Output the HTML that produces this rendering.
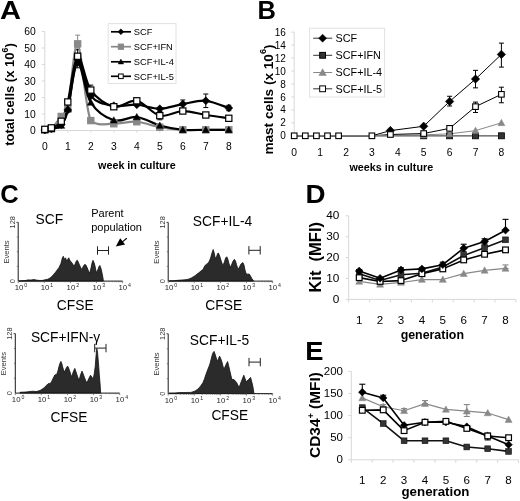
<!DOCTYPE html><html><head><meta charset="utf-8"><style>html,body{margin:0;padding:0;background:#fff;}svg{display:block;filter:grayscale(1) blur(0.35px);}text{font-family:"Liberation Sans",sans-serif;}</style></head><body>
<svg width="520" height="501" viewBox="0 0 520 501">
<rect x="0" y="0" width="520" height="501" fill="#fff" stroke="none" stroke-width="1"/>
<line x1="44.8" y1="31.5" x2="44.8" y2="130.5" stroke="#d8d8d8" stroke-width="1"/>
<line x1="44.8" y1="130.5" x2="228.8" y2="130.5" stroke="#d8d8d8" stroke-width="1"/>
<line x1="41.8" y1="130.5" x2="44.8" y2="130.5" stroke="#d8d8d8" stroke-width="1"/>
<text x="35.8" y="134.2" font-size="10.3" text-anchor="end" font-weight="normal" fill="#000">0</text>
<line x1="41.8" y1="114" x2="44.8" y2="114" stroke="#d8d8d8" stroke-width="1"/>
<text x="35.8" y="117.7" font-size="10.3" text-anchor="end" font-weight="normal" fill="#000">10</text>
<line x1="41.8" y1="97.5" x2="44.8" y2="97.5" stroke="#d8d8d8" stroke-width="1"/>
<text x="35.8" y="101.2" font-size="10.3" text-anchor="end" font-weight="normal" fill="#000">20</text>
<line x1="41.8" y1="81" x2="44.8" y2="81" stroke="#d8d8d8" stroke-width="1"/>
<text x="35.8" y="84.7" font-size="10.3" text-anchor="end" font-weight="normal" fill="#000">30</text>
<line x1="41.8" y1="64.5" x2="44.8" y2="64.5" stroke="#d8d8d8" stroke-width="1"/>
<text x="35.8" y="68.2" font-size="10.3" text-anchor="end" font-weight="normal" fill="#000">40</text>
<line x1="41.8" y1="48" x2="44.8" y2="48" stroke="#d8d8d8" stroke-width="1"/>
<text x="35.8" y="51.7" font-size="10.3" text-anchor="end" font-weight="normal" fill="#000">50</text>
<line x1="41.8" y1="31.5" x2="44.8" y2="31.5" stroke="#d8d8d8" stroke-width="1"/>
<text x="35.8" y="35.2" font-size="10.3" text-anchor="end" font-weight="normal" fill="#000">60</text>
<line x1="44.8" y1="130.5" x2="44.8" y2="132.5" stroke="#d8d8d8" stroke-width="1"/>
<text x="44.8" y="149.7" font-size="10.3" text-anchor="middle" font-weight="normal" fill="#000">0</text>
<line x1="67.8" y1="130.5" x2="67.8" y2="132.5" stroke="#d8d8d8" stroke-width="1"/>
<text x="67.8" y="149.7" font-size="10.3" text-anchor="middle" font-weight="normal" fill="#000">1</text>
<line x1="90.8" y1="130.5" x2="90.8" y2="132.5" stroke="#d8d8d8" stroke-width="1"/>
<text x="90.8" y="149.7" font-size="10.3" text-anchor="middle" font-weight="normal" fill="#000">2</text>
<line x1="113.8" y1="130.5" x2="113.8" y2="132.5" stroke="#d8d8d8" stroke-width="1"/>
<text x="113.8" y="149.7" font-size="10.3" text-anchor="middle" font-weight="normal" fill="#000">3</text>
<line x1="136.8" y1="130.5" x2="136.8" y2="132.5" stroke="#d8d8d8" stroke-width="1"/>
<text x="136.8" y="149.7" font-size="10.3" text-anchor="middle" font-weight="normal" fill="#000">4</text>
<line x1="159.8" y1="130.5" x2="159.8" y2="132.5" stroke="#d8d8d8" stroke-width="1"/>
<text x="159.8" y="149.7" font-size="10.3" text-anchor="middle" font-weight="normal" fill="#000">5</text>
<line x1="182.8" y1="130.5" x2="182.8" y2="132.5" stroke="#d8d8d8" stroke-width="1"/>
<text x="182.8" y="149.7" font-size="10.3" text-anchor="middle" font-weight="normal" fill="#000">6</text>
<line x1="205.8" y1="130.5" x2="205.8" y2="132.5" stroke="#d8d8d8" stroke-width="1"/>
<text x="205.8" y="149.7" font-size="10.3" text-anchor="middle" font-weight="normal" fill="#000">7</text>
<line x1="228.8" y1="130.5" x2="228.8" y2="132.5" stroke="#d8d8d8" stroke-width="1"/>
<text x="228.8" y="149.7" font-size="10.3" text-anchor="middle" font-weight="normal" fill="#000">8</text>
<text x="0" y="0" font-size="25.5" font-weight="bold" transform="translate(-0.1 18.8) scale(1.14 1)">A</text>
<text x="136.9" y="168.6" font-size="10.75" text-anchor="middle" font-weight="bold" fill="#000">week in culture</text>
<text x="14" y="94.5" font-size="13" font-weight="bold" text-anchor="middle" transform="rotate(-90 14 94.5)">total cells (x 10<tspan dy="-6" font-size="8.8">6</tspan><tspan dy="6">)</tspan></text>
<line x1="77.66" y1="35.13" x2="77.66" y2="49.98" stroke="#888" stroke-width="1"/>
<line x1="75.16" y1="35.13" x2="80.16" y2="35.13" stroke="#888" stroke-width="1"/>
<line x1="75.16" y1="49.98" x2="80.16" y2="49.98" stroke="#888" stroke-width="1"/>
<line x1="77.66" y1="49.65" x2="77.66" y2="67.8" stroke="#000" stroke-width="1"/>
<line x1="75.16" y1="49.65" x2="80.16" y2="49.65" stroke="#000" stroke-width="1"/>
<line x1="75.16" y1="67.8" x2="80.16" y2="67.8" stroke="#000" stroke-width="1"/>
<line x1="205.8" y1="94.03" x2="205.8" y2="107.56" stroke="#000" stroke-width="1"/>
<line x1="203.3" y1="94.03" x2="208.3" y2="94.03" stroke="#000" stroke-width="1"/>
<line x1="203.3" y1="107.56" x2="208.3" y2="107.56" stroke="#000" stroke-width="1"/>
<line x1="182.8" y1="99.97" x2="182.8" y2="108.22" stroke="#000" stroke-width="1"/>
<line x1="180.3" y1="99.97" x2="185.3" y2="99.97" stroke="#000" stroke-width="1"/>
<line x1="180.3" y1="108.22" x2="185.3" y2="108.22" stroke="#000" stroke-width="1"/>
<line x1="90.8" y1="85.12" x2="90.8" y2="95.03" stroke="#000" stroke-width="1"/>
<line x1="88.3" y1="85.12" x2="93.3" y2="85.12" stroke="#000" stroke-width="1"/>
<line x1="88.3" y1="95.03" x2="93.3" y2="95.03" stroke="#000" stroke-width="1"/>
<line x1="136.8" y1="98.33" x2="136.8" y2="103.28" stroke="#000" stroke-width="1"/>
<line x1="134.3" y1="98.33" x2="139.3" y2="98.33" stroke="#000" stroke-width="1"/>
<line x1="134.3" y1="103.28" x2="139.3" y2="103.28" stroke="#000" stroke-width="1"/>
<line x1="228.8" y1="105.25" x2="228.8" y2="110.7" stroke="#000" stroke-width="1"/>
<line x1="226.3" y1="105.25" x2="231.3" y2="105.25" stroke="#000" stroke-width="1"/>
<line x1="226.3" y1="110.7" x2="231.3" y2="110.7" stroke="#000" stroke-width="1"/>
<line x1="159.8" y1="111.53" x2="159.8" y2="119.78" stroke="#000" stroke-width="1"/>
<line x1="157.3" y1="111.53" x2="162.3" y2="111.53" stroke="#000" stroke-width="1"/>
<line x1="157.3" y1="119.78" x2="162.3" y2="119.78" stroke="#000" stroke-width="1"/>
<path d="M44.8,130 C45.9,129.81 48.63,131.1 51.37,128.85 C54.11,126.59 58.49,119.77 61.23,116.47 C63.97,113.17 65.06,119.47 67.8,109.05 C70.54,96.95 73.82,41.95 77.66,43.88 C81.49,45.8 84.78,107.29 90.8,120.6 C96.82,126.73 106.13,123.54 113.8,123.73 C121.47,123.93 129.13,121.18 136.8,121.75 C144.47,122.33 152.13,125.85 159.8,127.2 C167.47,128.55 175.13,129.4 182.8,129.84 C190.47,130.28 198.13,129.84 205.8,129.84 C213.47,129.84 224.97,129.84 228.8,129.84" stroke="#888" stroke-width="2.2" fill="none" stroke-linejoin="round"/>
<path d="M44.8,130 C45.9,129.81 48.63,129.59 51.37,128.85 C54.11,128.11 58.49,128.85 61.23,125.55 C63.97,122.25 65.06,119.5 67.8,109.05 C70.54,98.6 73.82,63.95 77.66,62.85 C81.49,61.75 84.78,92.88 90.8,102.45 C96.82,112.02 106.13,117.85 113.8,120.27 C121.47,122.69 129.13,116.09 136.8,116.97 C144.47,117.85 152.13,123.41 159.8,125.55 C167.47,127.69 175.13,129.12 182.8,129.84 C190.47,130.56 198.13,129.84 205.8,129.84 C213.47,129.84 224.97,129.84 228.8,129.84" stroke="#000" stroke-width="2.2" fill="none" stroke-linejoin="round"/>
<path d="M44.8,130 C45.9,129.81 48.63,129.73 51.37,128.85 C54.11,127.97 58.49,127.89 61.23,124.72 C63.97,121.56 65.06,120.74 67.8,109.88 C70.54,99.01 73.82,61.89 77.66,59.55 C81.49,57.21 84.78,88.15 90.8,95.85 C96.82,103.55 106.13,104.27 113.8,105.75 C121.47,107.23 129.13,104.27 136.8,104.76 C144.47,105.26 152.13,108.83 159.8,108.72 C167.47,108.61 175.13,105.42 182.8,104.1 C190.47,102.78 198.13,100.14 205.8,100.8 C213.47,101.46 224.97,106.85 228.8,108.06" stroke="#000" stroke-width="2.2" fill="none" stroke-linejoin="round"/>
<path d="M44.8,129.34 C45.9,129.1 48.63,129.21 51.37,127.86 C54.11,126.51 58.49,125.58 61.23,121.26 C63.97,116.94 65.06,112.79 67.8,101.95 C70.54,91.12 73.82,58.23 77.66,56.25 C81.49,54.27 84.78,81.66 90.8,90.08 C96.82,98.49 106.13,104.95 113.8,106.74 C121.47,108.53 129.13,99.31 136.8,100.8 C144.47,102.28 152.13,113.95 159.8,115.65 C167.47,117.36 175.13,111.14 182.8,111.03 C190.47,110.92 198.13,113.78 205.8,114.99 C213.47,116.2 224.97,117.74 228.8,118.29" stroke="#000" stroke-width="2.2" fill="none" stroke-linejoin="round"/>
<rect x="41.7" y="126.91" width="6.2" height="6.2" fill="#888" stroke="#888" stroke-width="1.2"/>
<rect x="48.27" y="125.75" width="6.2" height="6.2" fill="#888" stroke="#888" stroke-width="1.2"/>
<rect x="58.13" y="113.38" width="6.2" height="6.2" fill="#888" stroke="#888" stroke-width="1.2"/>
<rect x="64.7" y="105.95" width="6.2" height="6.2" fill="#888" stroke="#888" stroke-width="1.2"/>
<rect x="74.56" y="40.77" width="6.2" height="6.2" fill="#888" stroke="#888" stroke-width="1.2"/>
<rect x="87.7" y="117.5" width="6.2" height="6.2" fill="#888" stroke="#888" stroke-width="1.2"/>
<rect x="110.7" y="120.64" width="6.2" height="6.2" fill="#888" stroke="#888" stroke-width="1.2"/>
<rect x="133.7" y="118.66" width="6.2" height="6.2" fill="#888" stroke="#888" stroke-width="1.2"/>
<rect x="156.7" y="124.1" width="6.2" height="6.2" fill="#888" stroke="#888" stroke-width="1.2"/>
<rect x="179.7" y="126.74" width="6.2" height="6.2" fill="#888" stroke="#888" stroke-width="1.2"/>
<rect x="202.7" y="126.74" width="6.2" height="6.2" fill="#888" stroke="#888" stroke-width="1.2"/>
<rect x="225.7" y="126.74" width="6.2" height="6.2" fill="#888" stroke="#888" stroke-width="1.2"/>
<path d="M44.8,126.5 L48.3,132.81 L41.3,132.81 Z" fill="#000" stroke="#000" stroke-width="0.5"/>
<path d="M51.37,125.35 L54.87,131.65 L47.87,131.65 Z" fill="#000" stroke="#000" stroke-width="0.5"/>
<path d="M61.23,122.05 L64.73,128.35 L57.73,128.35 Z" fill="#000" stroke="#000" stroke-width="0.5"/>
<path d="M67.8,105.55 L71.3,111.85 L64.3,111.85 Z" fill="#000" stroke="#000" stroke-width="0.5"/>
<path d="M77.66,59.35 L81.16,65.65 L74.16,65.65 Z" fill="#000" stroke="#000" stroke-width="0.5"/>
<path d="M90.8,98.95 L94.3,105.25 L87.3,105.25 Z" fill="#000" stroke="#000" stroke-width="0.5"/>
<path d="M113.8,116.77 L117.3,123.07 L110.3,123.07 Z" fill="#000" stroke="#000" stroke-width="0.5"/>
<path d="M136.8,113.47 L140.3,119.77 L133.3,119.77 Z" fill="#000" stroke="#000" stroke-width="0.5"/>
<path d="M159.8,122.05 L163.3,128.35 L156.3,128.35 Z" fill="#000" stroke="#000" stroke-width="0.5"/>
<path d="M182.8,126.34 L186.3,132.64 L179.3,132.64 Z" fill="#000" stroke="#000" stroke-width="0.5"/>
<path d="M205.8,126.34 L209.3,132.64 L202.3,132.64 Z" fill="#000" stroke="#000" stroke-width="0.5"/>
<path d="M228.8,126.34 L232.3,132.64 L225.3,132.64 Z" fill="#000" stroke="#000" stroke-width="0.5"/>
<path d="M44.8,126 L48.8,130 L44.8,134 L40.8,130 Z" fill="#000" stroke="#000" stroke-width="0.5"/>
<path d="M51.37,124.85 L55.37,128.85 L51.37,132.85 L47.37,128.85 Z" fill="#000" stroke="#000" stroke-width="0.5"/>
<path d="M61.23,120.72 L65.23,124.72 L61.23,128.72 L57.23,124.72 Z" fill="#000" stroke="#000" stroke-width="0.5"/>
<path d="M67.8,105.88 L71.8,109.88 L67.8,113.88 L63.8,109.88 Z" fill="#000" stroke="#000" stroke-width="0.5"/>
<path d="M77.66,55.55 L81.66,59.55 L77.66,63.55 L73.66,59.55 Z" fill="#000" stroke="#000" stroke-width="0.5"/>
<path d="M90.8,91.85 L94.8,95.85 L90.8,99.85 L86.8,95.85 Z" fill="#000" stroke="#000" stroke-width="0.5"/>
<path d="M113.8,101.75 L117.8,105.75 L113.8,109.75 L109.8,105.75 Z" fill="#000" stroke="#000" stroke-width="0.5"/>
<path d="M136.8,100.76 L140.8,104.76 L136.8,108.76 L132.8,104.76 Z" fill="#000" stroke="#000" stroke-width="0.5"/>
<path d="M159.8,104.72 L163.8,108.72 L159.8,112.72 L155.8,108.72 Z" fill="#000" stroke="#000" stroke-width="0.5"/>
<path d="M182.8,100.1 L186.8,104.1 L182.8,108.1 L178.8,104.1 Z" fill="#000" stroke="#000" stroke-width="0.5"/>
<path d="M205.8,96.8 L209.8,100.8 L205.8,104.8 L201.8,100.8 Z" fill="#000" stroke="#000" stroke-width="0.5"/>
<path d="M228.8,104.06 L232.8,108.06 L228.8,112.06 L224.8,108.06 Z" fill="#000" stroke="#000" stroke-width="0.5"/>
<rect x="41.7" y="126.25" width="6.2" height="6.2" fill="#fff" stroke="#000" stroke-width="1.2"/>
<rect x="48.27" y="124.76" width="6.2" height="6.2" fill="#fff" stroke="#000" stroke-width="1.2"/>
<rect x="58.13" y="118.16" width="6.2" height="6.2" fill="#fff" stroke="#000" stroke-width="1.2"/>
<rect x="64.7" y="98.86" width="6.2" height="6.2" fill="#fff" stroke="#000" stroke-width="1.2"/>
<rect x="74.56" y="53.15" width="6.2" height="6.2" fill="#fff" stroke="#000" stroke-width="1.2"/>
<rect x="87.7" y="86.98" width="6.2" height="6.2" fill="#fff" stroke="#000" stroke-width="1.2"/>
<rect x="110.7" y="103.64" width="6.2" height="6.2" fill="#fff" stroke="#000" stroke-width="1.2"/>
<rect x="133.7" y="97.7" width="6.2" height="6.2" fill="#fff" stroke="#000" stroke-width="1.2"/>
<rect x="156.7" y="112.55" width="6.2" height="6.2" fill="#fff" stroke="#000" stroke-width="1.2"/>
<rect x="179.7" y="107.93" width="6.2" height="6.2" fill="#fff" stroke="#000" stroke-width="1.2"/>
<rect x="202.7" y="111.89" width="6.2" height="6.2" fill="#fff" stroke="#000" stroke-width="1.2"/>
<rect x="225.7" y="115.19" width="6.2" height="6.2" fill="#fff" stroke="#000" stroke-width="1.2"/>
<rect x="108.2" y="23.6" width="67.8" height="59.9" fill="#fff" stroke="#e2e2e2" stroke-width="1"/>
<line x1="111" y1="31.8" x2="131" y2="31.8" stroke="#000" stroke-width="1.7"/>
<path d="M120.9,28.8 L123.9,31.8 L120.9,34.8 L117.9,31.8 Z" fill="#000" stroke="#000" stroke-width="0.4"/>
<text x="133.8" y="35.1" font-size="9.3" text-anchor="start" font-weight="normal" fill="#000">SCF</text>
<line x1="111" y1="46.7" x2="131" y2="46.7" stroke="#888" stroke-width="1.7"/>
<rect x="118.3" y="44.1" width="5.2" height="5.2" fill="#888" stroke="#888" stroke-width="1"/>
<text x="133.8" y="50" font-size="9.3" text-anchor="start" font-weight="normal" fill="#000">SCF+IFN</text>
<line x1="111" y1="61.8" x2="131" y2="61.8" stroke="#000" stroke-width="1.7"/>
<path d="M120.9,59 L123.7,64.04 L118.1,64.04 Z" fill="#000" stroke="#000" stroke-width="0.4"/>
<text x="133.8" y="65.1" font-size="9.3" text-anchor="start" font-weight="normal" fill="#000">SCF+IL-4</text>
<line x1="111" y1="76.3" x2="131" y2="76.3" stroke="#000" stroke-width="1.7"/>
<rect x="118.6" y="74" width="4.6" height="4.6" fill="#fff" stroke="#000" stroke-width="1"/>
<text x="133.8" y="79.6" font-size="9.3" text-anchor="start" font-weight="normal" fill="#000">SCF+IL-5</text>
<line x1="294.2" y1="32.12" x2="294.2" y2="135.8" stroke="#d8d8d8" stroke-width="1"/>
<line x1="294.2" y1="135.8" x2="503.4" y2="135.8" stroke="#777" stroke-width="1"/>
<line x1="291.2" y1="135.8" x2="294.2" y2="135.8" stroke="#d8d8d8" stroke-width="1"/>
<text x="285.8" y="139.4" font-size="10" text-anchor="end" font-weight="normal" fill="#000">0</text>
<line x1="291.2" y1="122.84" x2="294.2" y2="122.84" stroke="#d8d8d8" stroke-width="1"/>
<text x="285.8" y="126.44" font-size="10" text-anchor="end" font-weight="normal" fill="#000">2</text>
<line x1="291.2" y1="109.88" x2="294.2" y2="109.88" stroke="#d8d8d8" stroke-width="1"/>
<text x="285.8" y="113.48" font-size="10" text-anchor="end" font-weight="normal" fill="#000">4</text>
<line x1="291.2" y1="96.92" x2="294.2" y2="96.92" stroke="#d8d8d8" stroke-width="1"/>
<text x="285.8" y="100.52" font-size="10" text-anchor="end" font-weight="normal" fill="#000">6</text>
<line x1="291.2" y1="83.96" x2="294.2" y2="83.96" stroke="#d8d8d8" stroke-width="1"/>
<text x="285.8" y="87.56" font-size="10" text-anchor="end" font-weight="normal" fill="#000">8</text>
<line x1="291.2" y1="71" x2="294.2" y2="71" stroke="#d8d8d8" stroke-width="1"/>
<text x="285.8" y="74.6" font-size="10" text-anchor="end" font-weight="normal" fill="#000">10</text>
<line x1="291.2" y1="58.04" x2="294.2" y2="58.04" stroke="#d8d8d8" stroke-width="1"/>
<text x="285.8" y="61.64" font-size="10" text-anchor="end" font-weight="normal" fill="#000">12</text>
<line x1="291.2" y1="45.08" x2="294.2" y2="45.08" stroke="#d8d8d8" stroke-width="1"/>
<text x="285.8" y="48.68" font-size="10" text-anchor="end" font-weight="normal" fill="#000">14</text>
<line x1="291.2" y1="32.12" x2="294.2" y2="32.12" stroke="#d8d8d8" stroke-width="1"/>
<text x="285.8" y="35.72" font-size="10" text-anchor="end" font-weight="normal" fill="#000">16</text>
<text x="294.2" y="155.9" font-size="10.3" text-anchor="middle" font-weight="normal" fill="#000">0</text>
<text x="320.1" y="155.9" font-size="10.3" text-anchor="middle" font-weight="normal" fill="#000">1</text>
<text x="346" y="155.9" font-size="10.3" text-anchor="middle" font-weight="normal" fill="#000">2</text>
<text x="371.9" y="155.9" font-size="10.3" text-anchor="middle" font-weight="normal" fill="#000">3</text>
<text x="397.8" y="155.9" font-size="10.3" text-anchor="middle" font-weight="normal" fill="#000">4</text>
<text x="423.7" y="155.9" font-size="10.3" text-anchor="middle" font-weight="normal" fill="#000">5</text>
<text x="449.6" y="155.9" font-size="10.3" text-anchor="middle" font-weight="normal" fill="#000">6</text>
<text x="475.5" y="155.9" font-size="10.3" text-anchor="middle" font-weight="normal" fill="#000">7</text>
<text x="501.4" y="155.9" font-size="10.3" text-anchor="middle" font-weight="normal" fill="#000">8</text>
<text x="257.4" y="18.8" font-size="25.5" text-anchor="start" font-weight="bold" fill="#000">B</text>
<text x="391.3" y="170.7" font-size="10.75" text-anchor="middle" font-weight="bold" fill="#000">weeks in culture</text>
<text x="273.2" y="99.5" font-size="13.6" font-weight="bold" text-anchor="middle" transform="rotate(-90 273.2 99.5)">mast cells (x 10<tspan dy="-6.8" font-size="9.2">6</tspan><tspan dy="6.8">)</tspan></text>
<line x1="501.4" y1="43.14" x2="501.4" y2="67.11" stroke="#000" stroke-width="1"/>
<line x1="498.9" y1="43.14" x2="503.9" y2="43.14" stroke="#000" stroke-width="1"/>
<line x1="498.9" y1="67.11" x2="503.9" y2="67.11" stroke="#000" stroke-width="1"/>
<line x1="475.5" y1="70.35" x2="475.5" y2="87.85" stroke="#000" stroke-width="1"/>
<line x1="473" y1="70.35" x2="478" y2="70.35" stroke="#000" stroke-width="1"/>
<line x1="473" y1="87.85" x2="478" y2="87.85" stroke="#000" stroke-width="1"/>
<line x1="449.6" y1="96.27" x2="449.6" y2="105.99" stroke="#000" stroke-width="1"/>
<line x1="447.1" y1="96.27" x2="452.1" y2="96.27" stroke="#000" stroke-width="1"/>
<line x1="447.1" y1="105.99" x2="452.1" y2="105.99" stroke="#000" stroke-width="1"/>
<line x1="501.4" y1="87.2" x2="501.4" y2="102.75" stroke="#000" stroke-width="1"/>
<line x1="498.9" y1="87.2" x2="503.9" y2="87.2" stroke="#000" stroke-width="1"/>
<line x1="498.9" y1="102.75" x2="503.9" y2="102.75" stroke="#000" stroke-width="1"/>
<line x1="475.5" y1="102.1" x2="475.5" y2="112.47" stroke="#000" stroke-width="1"/>
<line x1="473" y1="102.1" x2="478" y2="102.1" stroke="#000" stroke-width="1"/>
<line x1="473" y1="112.47" x2="478" y2="112.47" stroke="#000" stroke-width="1"/>
<path d="M294.2,135.8 L305.3,135.8 L316.4,135.8 L327.5,135.8 L338.6,135.8 L371.9,135.8 L390.4,135.48 L423.7,134.83 L449.6,133.86 L475.5,130.62 L501.4,122.84" stroke="#888" stroke-width="1" fill="none" stroke-linejoin="round"/>
<path d="M294.2,135.8 L305.3,135.8 L316.4,135.8 L327.5,135.8 L338.6,135.8 L371.9,135.8 L390.4,134.5 L423.7,133.53 L449.6,128.35 L475.5,106.64 L501.4,94.33" stroke="#000" stroke-width="1" fill="none" stroke-linejoin="round"/>
<path d="M294.2,135.8 L305.3,135.8 L316.4,135.8 L327.5,135.8 L338.6,135.8 L371.9,135.8 L390.4,130.62 L423.7,126.27 L449.6,101.46 L475.5,79.1 L501.4,54.41" stroke="#000" stroke-width="1" fill="none" stroke-linejoin="round"/>
<path d="M294.2,135.8 L305.3,135.8 L316.4,135.8 L327.5,135.8 L338.6,135.8 L371.9,135.8 L390.4,135.8 L423.7,135.8 L449.6,135.8 L475.5,135.8 L501.4,135.8" stroke="#7a7a7a" stroke-width="1.6" fill="none" stroke-linejoin="round"/>
<rect x="420.7" y="132.8" width="6" height="6" fill="#333" stroke="#000" stroke-width="0.8"/>
<rect x="446.6" y="132.8" width="6" height="6" fill="#333" stroke="#000" stroke-width="0.8"/>
<rect x="472.5" y="132.8" width="6" height="6" fill="#333" stroke="#000" stroke-width="0.8"/>
<rect x="498.4" y="132.8" width="6" height="6" fill="#333" stroke="#000" stroke-width="0.8"/>
<path d="M423.7,131.33 L427.2,137.63 L420.2,137.63 Z" fill="#888" stroke="#888" stroke-width="0.5"/>
<path d="M449.6,130.36 L453.1,136.66 L446.1,136.66 Z" fill="#888" stroke="#888" stroke-width="0.5"/>
<path d="M475.5,127.12 L479,133.42 L472,133.42 Z" fill="#888" stroke="#888" stroke-width="0.5"/>
<path d="M501.4,119.34 L504.9,125.64 L497.9,125.64 Z" fill="#888" stroke="#888" stroke-width="0.5"/>
<path d="M390.4,126.37 L394.65,130.62 L390.4,134.87 L386.15,130.62 Z" fill="#000" stroke="#000" stroke-width="0.5"/>
<path d="M423.7,122.02 L427.95,126.27 L423.7,130.52 L419.45,126.27 Z" fill="#000" stroke="#000" stroke-width="0.5"/>
<path d="M449.6,97.21 L453.85,101.46 L449.6,105.71 L445.35,101.46 Z" fill="#000" stroke="#000" stroke-width="0.5"/>
<path d="M475.5,74.85 L479.75,79.1 L475.5,83.35 L471.25,79.1 Z" fill="#000" stroke="#000" stroke-width="0.5"/>
<path d="M501.4,50.16 L505.65,54.41 L501.4,58.66 L497.15,54.41 Z" fill="#000" stroke="#000" stroke-width="0.5"/>
<rect x="291.4" y="133" width="5.6" height="5.6" fill="#fff" stroke="#000" stroke-width="1.1"/>
<rect x="302.5" y="133" width="5.6" height="5.6" fill="#fff" stroke="#000" stroke-width="1.1"/>
<rect x="313.6" y="133" width="5.6" height="5.6" fill="#fff" stroke="#000" stroke-width="1.1"/>
<rect x="324.7" y="133" width="5.6" height="5.6" fill="#fff" stroke="#000" stroke-width="1.1"/>
<rect x="335.8" y="133" width="5.6" height="5.6" fill="#fff" stroke="#000" stroke-width="1.1"/>
<rect x="369.1" y="133" width="5.6" height="5.6" fill="#fff" stroke="#000" stroke-width="1.1"/>
<rect x="387.6" y="131.7" width="5.6" height="5.6" fill="#fff" stroke="#000" stroke-width="1.1"/>
<rect x="420.9" y="130.73" width="5.6" height="5.6" fill="#fff" stroke="#000" stroke-width="1.1"/>
<rect x="446.8" y="125.55" width="5.6" height="5.6" fill="#fff" stroke="#000" stroke-width="1.1"/>
<rect x="472.7" y="103.84" width="5.6" height="5.6" fill="#fff" stroke="#000" stroke-width="1.1"/>
<rect x="498.6" y="91.53" width="5.6" height="5.6" fill="#fff" stroke="#000" stroke-width="1.1"/>
<rect x="309.6" y="28.2" width="75" height="68.8" fill="#fff" stroke="#e2e2e2" stroke-width="1"/>
<line x1="313.2" y1="38.2" x2="332.2" y2="38.2" stroke="#333" stroke-width="1"/>
<path d="M322.6,34.2 L326.6,38.2 L322.6,42.2 L318.6,38.2 Z" fill="#000" stroke="#000" stroke-width="0.5"/>
<text x="335.6" y="42.1" font-size="10.8" text-anchor="start" font-weight="normal" fill="#000">SCF</text>
<line x1="313.2" y1="55.3" x2="332.2" y2="55.3" stroke="#333" stroke-width="1"/>
<rect x="319.7" y="52.4" width="5.8" height="5.8" fill="#333" stroke="#000" stroke-width="1"/>
<text x="335.6" y="59.2" font-size="10.8" text-anchor="start" font-weight="normal" fill="#000">SCF+IFN</text>
<line x1="313.2" y1="72.5" x2="332.2" y2="72.5" stroke="#888" stroke-width="1"/>
<path d="M322.6,68.75 L326.35,75.5 L318.85,75.5 Z" fill="#888" stroke="#888" stroke-width="0.5"/>
<text x="335.6" y="76.4" font-size="10.8" text-anchor="start" font-weight="normal" fill="#000">SCF+IL-4</text>
<line x1="313.2" y1="88.8" x2="332.2" y2="88.8" stroke="#333" stroke-width="1"/>
<rect x="319.7" y="85.9" width="5.8" height="5.8" fill="#fff" stroke="#000" stroke-width="1"/>
<text x="335.6" y="92.7" font-size="10.8" text-anchor="start" font-weight="normal" fill="#000">SCF+IL-5</text>
<text x="0.3" y="202.5" font-size="25.5" text-anchor="start" font-weight="bold" fill="#000">C</text>
<path d="M19,281.1 L19,280.9 L25,280.6 L28,279.9 L31,280 L34,279.6 L37,280.2 L40,280.5 L42.6,280.4 L45,279.8 L47.8,279.2 L50,278 L51.8,276.6 L53.5,274.5 L55.7,272 L57.5,269.5 L59,267.5 L60.2,265 L60.9,263.5 L61.6,260.8 L62.3,258 L63.3,256.3 L64,258.5 L64.6,259 L65.5,257.8 L66.3,260 L66.8,261 L67.8,259.2 L68.8,257.8 L69.6,259.8 L70.3,261 L71.2,262 L72,263 L73.2,264.8 L74.3,266 L75.5,263 L76.5,260.8 L77.3,260.2 L78.2,262 L79.2,264.2 L80.4,267 L81.6,269.4 L83,267 L84.2,265 L85.1,264.3 L86.2,265.6 L87.3,268 L88.5,271 L89.7,273.3 L91,268 L92,263 L93,260.3 L94,262.5 L94.9,265.5 L95.7,269.5 L96.5,272.7 L97.8,270 L99,266.5 L99.9,265.5 L101,268.5 L102.1,273.3 L102.8,277 L103.4,280.9 L103.4,281.1 Z" fill="#2b2b2b" stroke="#111" stroke-width="0.8" stroke-linejoin="round"/>
<line x1="18.2" y1="222.3" x2="18.2" y2="281.1" stroke="#1a1a1a" stroke-width="1"/>
<line x1="18.2" y1="281.1" x2="122.6" y2="281.1" stroke="#1a1a1a" stroke-width="1"/>
<line x1="16.4" y1="222.3" x2="18.2" y2="222.3" stroke="#222" stroke-width="0.8"/>
<line x1="16.8" y1="266.4" x2="18.2" y2="266.4" stroke="#555" stroke-width="0.7"/>
<line x1="16.8" y1="251.7" x2="18.2" y2="251.7" stroke="#555" stroke-width="0.7"/>
<line x1="16.8" y1="237" x2="18.2" y2="237" stroke="#555" stroke-width="0.7"/>
<line x1="18.2" y1="281.1" x2="18.2" y2="283.1" stroke="#555" stroke-width="0.7"/>
<line x1="26.06" y1="281.1" x2="26.06" y2="282.2" stroke="#555" stroke-width="0.7"/>
<line x1="30.65" y1="281.1" x2="30.65" y2="282.2" stroke="#555" stroke-width="0.7"/>
<line x1="33.91" y1="281.1" x2="33.91" y2="282.2" stroke="#555" stroke-width="0.7"/>
<line x1="36.44" y1="281.1" x2="36.44" y2="282.2" stroke="#555" stroke-width="0.7"/>
<line x1="38.51" y1="281.1" x2="38.51" y2="282.2" stroke="#555" stroke-width="0.7"/>
<line x1="40.26" y1="281.1" x2="40.26" y2="282.2" stroke="#555" stroke-width="0.7"/>
<line x1="41.77" y1="281.1" x2="41.77" y2="282.2" stroke="#555" stroke-width="0.7"/>
<line x1="43.11" y1="281.1" x2="43.11" y2="282.2" stroke="#555" stroke-width="0.7"/>
<line x1="44.3" y1="281.1" x2="44.3" y2="283.1" stroke="#555" stroke-width="0.7"/>
<line x1="52.16" y1="281.1" x2="52.16" y2="282.2" stroke="#555" stroke-width="0.7"/>
<line x1="56.75" y1="281.1" x2="56.75" y2="282.2" stroke="#555" stroke-width="0.7"/>
<line x1="60.01" y1="281.1" x2="60.01" y2="282.2" stroke="#555" stroke-width="0.7"/>
<line x1="62.54" y1="281.1" x2="62.54" y2="282.2" stroke="#555" stroke-width="0.7"/>
<line x1="64.61" y1="281.1" x2="64.61" y2="282.2" stroke="#555" stroke-width="0.7"/>
<line x1="66.36" y1="281.1" x2="66.36" y2="282.2" stroke="#555" stroke-width="0.7"/>
<line x1="67.87" y1="281.1" x2="67.87" y2="282.2" stroke="#555" stroke-width="0.7"/>
<line x1="69.21" y1="281.1" x2="69.21" y2="282.2" stroke="#555" stroke-width="0.7"/>
<line x1="70.4" y1="281.1" x2="70.4" y2="283.1" stroke="#555" stroke-width="0.7"/>
<line x1="78.26" y1="281.1" x2="78.26" y2="282.2" stroke="#555" stroke-width="0.7"/>
<line x1="82.85" y1="281.1" x2="82.85" y2="282.2" stroke="#555" stroke-width="0.7"/>
<line x1="86.11" y1="281.1" x2="86.11" y2="282.2" stroke="#555" stroke-width="0.7"/>
<line x1="88.64" y1="281.1" x2="88.64" y2="282.2" stroke="#555" stroke-width="0.7"/>
<line x1="90.71" y1="281.1" x2="90.71" y2="282.2" stroke="#555" stroke-width="0.7"/>
<line x1="92.46" y1="281.1" x2="92.46" y2="282.2" stroke="#555" stroke-width="0.7"/>
<line x1="93.97" y1="281.1" x2="93.97" y2="282.2" stroke="#555" stroke-width="0.7"/>
<line x1="95.31" y1="281.1" x2="95.31" y2="282.2" stroke="#555" stroke-width="0.7"/>
<line x1="96.5" y1="281.1" x2="96.5" y2="283.1" stroke="#555" stroke-width="0.7"/>
<line x1="104.36" y1="281.1" x2="104.36" y2="282.2" stroke="#555" stroke-width="0.7"/>
<line x1="108.95" y1="281.1" x2="108.95" y2="282.2" stroke="#555" stroke-width="0.7"/>
<line x1="112.21" y1="281.1" x2="112.21" y2="282.2" stroke="#555" stroke-width="0.7"/>
<line x1="114.74" y1="281.1" x2="114.74" y2="282.2" stroke="#555" stroke-width="0.7"/>
<line x1="116.81" y1="281.1" x2="116.81" y2="282.2" stroke="#555" stroke-width="0.7"/>
<line x1="118.56" y1="281.1" x2="118.56" y2="282.2" stroke="#555" stroke-width="0.7"/>
<line x1="120.07" y1="281.1" x2="120.07" y2="282.2" stroke="#555" stroke-width="0.7"/>
<line x1="121.41" y1="281.1" x2="121.41" y2="282.2" stroke="#555" stroke-width="0.7"/>
<line x1="122.6" y1="281.1" x2="122.6" y2="283.1" stroke="#555" stroke-width="0.7"/>
<text x="14.7" y="290.4" font-size="7.8" fill="#2a2a2a">10<tspan dx="0.9" dy="-3" font-size="5.2">0</tspan></text>
<text x="40.65" y="290.4" font-size="7.8" fill="#2a2a2a">10<tspan dx="0.9" dy="-3" font-size="5.2">1</tspan></text>
<text x="66.6" y="290.4" font-size="7.8" fill="#2a2a2a">10<tspan dx="0.9" dy="-3" font-size="5.2">2</tspan></text>
<text x="92.55" y="290.4" font-size="7.8" fill="#2a2a2a">10<tspan dx="0.9" dy="-3" font-size="5.2">3</tspan></text>
<text x="118.5" y="290.4" font-size="7.8" fill="#2a2a2a">10<tspan dx="0.9" dy="-3" font-size="5.2">4</tspan></text>
<text x="14.9" y="222.3" font-size="7.4" text-anchor="middle" fill="#333" transform="rotate(-90 14.9 222.3)">128</text>
<text x="8.9" y="252" font-size="7.6" text-anchor="middle" fill="#333" transform="rotate(-90 8.9 252)">Events</text>
<text x="14.6" y="281.1" font-size="7.4" text-anchor="middle" fill="#333" transform="rotate(-90 14.6 281.1)">0</text>
<text x="35.6" y="223.8" font-size="13.8" text-anchor="start" font-weight="normal" fill="#000">SCF</text>
<text x="56.8" y="309.8" font-size="13.8" text-anchor="start" font-weight="normal" fill="#000">CFSE</text>
<line x1="97.5" y1="250.5" x2="108.5" y2="250.5" stroke="#222" stroke-width="1"/>
<line x1="97.5" y1="246.3" x2="97.5" y2="254.7" stroke="#222" stroke-width="1"/>
<line x1="108.5" y1="246.3" x2="108.5" y2="254.7" stroke="#222" stroke-width="1"/>
<path d="M169,281.1 L169,280.9 L175,280.7 L177.7,280.3 L182,280 L185,279.8 L188.3,279.2 L191,278.2 L194.6,276 L196.5,274.5 L198.8,272.8 L201,271 L203,269.5 L204.2,267 L205.2,265.3 L206.3,264.5 L207.3,263.6 L208.4,262.5 L209.4,261 L210.6,258 L211.8,253.5 L213.2,249.5 L214.2,253 L215,257 L215.8,258.8 L216.8,256 L217.6,253.6 L218.3,253 L219.3,255 L220.3,258 L221.5,262 L222.5,264.5 L223.2,265.2 L224.5,261.5 L225.6,258 L226.8,256.8 L227.8,259 L228.8,263 L230.2,267.3 L231.5,265 L232.8,261.5 L234.4,259.3 L235.5,261 L236.5,264.5 L238,269.4 L239.5,267 L241,264 L242.9,262.6 L244,265 L245,270 L246,273.6 L247.5,274.2 L249.2,274 L250.5,276 L251.8,278.5 L253.4,280.6 L253.4,281.1 Z" fill="#2b2b2b" stroke="#111" stroke-width="0.8" stroke-linejoin="round"/>
<line x1="168.2" y1="222.4" x2="168.2" y2="281.1" stroke="#1a1a1a" stroke-width="1"/>
<line x1="168.2" y1="281.1" x2="272.6" y2="281.1" stroke="#1a1a1a" stroke-width="1"/>
<line x1="166.4" y1="222.4" x2="168.2" y2="222.4" stroke="#222" stroke-width="0.8"/>
<line x1="166.8" y1="266.43" x2="168.2" y2="266.43" stroke="#555" stroke-width="0.7"/>
<line x1="166.8" y1="251.75" x2="168.2" y2="251.75" stroke="#555" stroke-width="0.7"/>
<line x1="166.8" y1="237.08" x2="168.2" y2="237.08" stroke="#555" stroke-width="0.7"/>
<line x1="168.2" y1="281.1" x2="168.2" y2="283.1" stroke="#555" stroke-width="0.7"/>
<line x1="176.06" y1="281.1" x2="176.06" y2="282.2" stroke="#555" stroke-width="0.7"/>
<line x1="180.65" y1="281.1" x2="180.65" y2="282.2" stroke="#555" stroke-width="0.7"/>
<line x1="183.91" y1="281.1" x2="183.91" y2="282.2" stroke="#555" stroke-width="0.7"/>
<line x1="186.44" y1="281.1" x2="186.44" y2="282.2" stroke="#555" stroke-width="0.7"/>
<line x1="188.51" y1="281.1" x2="188.51" y2="282.2" stroke="#555" stroke-width="0.7"/>
<line x1="190.26" y1="281.1" x2="190.26" y2="282.2" stroke="#555" stroke-width="0.7"/>
<line x1="191.77" y1="281.1" x2="191.77" y2="282.2" stroke="#555" stroke-width="0.7"/>
<line x1="193.11" y1="281.1" x2="193.11" y2="282.2" stroke="#555" stroke-width="0.7"/>
<line x1="194.3" y1="281.1" x2="194.3" y2="283.1" stroke="#555" stroke-width="0.7"/>
<line x1="202.16" y1="281.1" x2="202.16" y2="282.2" stroke="#555" stroke-width="0.7"/>
<line x1="206.75" y1="281.1" x2="206.75" y2="282.2" stroke="#555" stroke-width="0.7"/>
<line x1="210.01" y1="281.1" x2="210.01" y2="282.2" stroke="#555" stroke-width="0.7"/>
<line x1="212.54" y1="281.1" x2="212.54" y2="282.2" stroke="#555" stroke-width="0.7"/>
<line x1="214.61" y1="281.1" x2="214.61" y2="282.2" stroke="#555" stroke-width="0.7"/>
<line x1="216.36" y1="281.1" x2="216.36" y2="282.2" stroke="#555" stroke-width="0.7"/>
<line x1="217.87" y1="281.1" x2="217.87" y2="282.2" stroke="#555" stroke-width="0.7"/>
<line x1="219.21" y1="281.1" x2="219.21" y2="282.2" stroke="#555" stroke-width="0.7"/>
<line x1="220.4" y1="281.1" x2="220.4" y2="283.1" stroke="#555" stroke-width="0.7"/>
<line x1="228.26" y1="281.1" x2="228.26" y2="282.2" stroke="#555" stroke-width="0.7"/>
<line x1="232.85" y1="281.1" x2="232.85" y2="282.2" stroke="#555" stroke-width="0.7"/>
<line x1="236.11" y1="281.1" x2="236.11" y2="282.2" stroke="#555" stroke-width="0.7"/>
<line x1="238.64" y1="281.1" x2="238.64" y2="282.2" stroke="#555" stroke-width="0.7"/>
<line x1="240.71" y1="281.1" x2="240.71" y2="282.2" stroke="#555" stroke-width="0.7"/>
<line x1="242.46" y1="281.1" x2="242.46" y2="282.2" stroke="#555" stroke-width="0.7"/>
<line x1="243.97" y1="281.1" x2="243.97" y2="282.2" stroke="#555" stroke-width="0.7"/>
<line x1="245.31" y1="281.1" x2="245.31" y2="282.2" stroke="#555" stroke-width="0.7"/>
<line x1="246.5" y1="281.1" x2="246.5" y2="283.1" stroke="#555" stroke-width="0.7"/>
<line x1="254.36" y1="281.1" x2="254.36" y2="282.2" stroke="#555" stroke-width="0.7"/>
<line x1="258.95" y1="281.1" x2="258.95" y2="282.2" stroke="#555" stroke-width="0.7"/>
<line x1="262.21" y1="281.1" x2="262.21" y2="282.2" stroke="#555" stroke-width="0.7"/>
<line x1="264.74" y1="281.1" x2="264.74" y2="282.2" stroke="#555" stroke-width="0.7"/>
<line x1="266.81" y1="281.1" x2="266.81" y2="282.2" stroke="#555" stroke-width="0.7"/>
<line x1="268.56" y1="281.1" x2="268.56" y2="282.2" stroke="#555" stroke-width="0.7"/>
<line x1="270.07" y1="281.1" x2="270.07" y2="282.2" stroke="#555" stroke-width="0.7"/>
<line x1="271.41" y1="281.1" x2="271.41" y2="282.2" stroke="#555" stroke-width="0.7"/>
<line x1="272.6" y1="281.1" x2="272.6" y2="283.1" stroke="#555" stroke-width="0.7"/>
<text x="164.7" y="290.4" font-size="7.8" fill="#2a2a2a">10<tspan dx="0.9" dy="-3" font-size="5.2">0</tspan></text>
<text x="190.65" y="290.4" font-size="7.8" fill="#2a2a2a">10<tspan dx="0.9" dy="-3" font-size="5.2">1</tspan></text>
<text x="216.6" y="290.4" font-size="7.8" fill="#2a2a2a">10<tspan dx="0.9" dy="-3" font-size="5.2">2</tspan></text>
<text x="242.55" y="290.4" font-size="7.8" fill="#2a2a2a">10<tspan dx="0.9" dy="-3" font-size="5.2">3</tspan></text>
<text x="268.5" y="290.4" font-size="7.8" fill="#2a2a2a">10<tspan dx="0.9" dy="-3" font-size="5.2">4</tspan></text>
<text x="164.9" y="222.4" font-size="7.4" text-anchor="middle" fill="#333" transform="rotate(-90 164.9 222.4)">128</text>
<text x="158.9" y="252.05" font-size="7.6" text-anchor="middle" fill="#333" transform="rotate(-90 158.9 252.05)">Events</text>
<text x="164.6" y="281.1" font-size="7.4" text-anchor="middle" fill="#333" transform="rotate(-90 164.6 281.1)">0</text>
<text x="192.8" y="225.9" font-size="13.8" text-anchor="start" font-weight="normal" fill="#000">SCF+IL-4</text>
<text x="205.3" y="309.6" font-size="13.8" text-anchor="start" font-weight="normal" fill="#000">CFSE</text>
<line x1="248.9" y1="250.3" x2="260.2" y2="250.3" stroke="#222" stroke-width="1"/>
<line x1="248.9" y1="246.1" x2="248.9" y2="254.5" stroke="#222" stroke-width="1"/>
<line x1="260.2" y1="246.1" x2="260.2" y2="254.5" stroke="#222" stroke-width="1"/>
<path d="M20,393.1 L20,392.3 L26,392 L30,391.5 L33,391.2 L36,391.6 L40,390.5 L42,389.3 L44.1,387.8 L46,385.8 L48.1,383.7 L49.5,383.4 L50.8,383 L51.8,381.2 L52.8,379 L53.8,377 L54.8,375 L55.8,374.5 L56.9,374.2 L58,370.5 L58.9,366.8 L59.9,363.5 L60.9,361.4 L61.8,363.5 L62.6,366.8 L63.5,369.8 L64.5,372.2 L66,368.5 L67.6,366.1 L68.6,368 L69.6,370.8 L70.6,374 L71.7,376.9 L73.2,372 L74.8,368.4 L75.9,371.5 L77,374.9 L78,377.8 L79.1,380.3 L80.5,375 L82,371.1 L83.2,374 L84.5,377.6 L85.7,380.5 L86.9,383 L88.6,379 L90.5,375.2 L91.8,377 L93.2,378.9 L94.3,373.5 L95.2,366.8 L96,356 L96.8,348.5 L97.5,352 L98.2,360 L98.8,367.5 L99.3,374.8 L100,383 L100.6,392 L100.6,393.1 Z" fill="#2b2b2b" stroke="#111" stroke-width="0.8" stroke-linejoin="round"/>
<line x1="15.3" y1="333.6" x2="15.3" y2="393.1" stroke="#1a1a1a" stroke-width="1"/>
<line x1="15.3" y1="393.1" x2="119.7" y2="393.1" stroke="#1a1a1a" stroke-width="1"/>
<line x1="13.5" y1="333.6" x2="15.3" y2="333.6" stroke="#222" stroke-width="0.8"/>
<line x1="13.9" y1="378.23" x2="15.3" y2="378.23" stroke="#555" stroke-width="0.7"/>
<line x1="13.9" y1="363.35" x2="15.3" y2="363.35" stroke="#555" stroke-width="0.7"/>
<line x1="13.9" y1="348.48" x2="15.3" y2="348.48" stroke="#555" stroke-width="0.7"/>
<line x1="15.3" y1="393.1" x2="15.3" y2="395.1" stroke="#555" stroke-width="0.7"/>
<line x1="23.16" y1="393.1" x2="23.16" y2="394.2" stroke="#555" stroke-width="0.7"/>
<line x1="27.75" y1="393.1" x2="27.75" y2="394.2" stroke="#555" stroke-width="0.7"/>
<line x1="31.01" y1="393.1" x2="31.01" y2="394.2" stroke="#555" stroke-width="0.7"/>
<line x1="33.54" y1="393.1" x2="33.54" y2="394.2" stroke="#555" stroke-width="0.7"/>
<line x1="35.61" y1="393.1" x2="35.61" y2="394.2" stroke="#555" stroke-width="0.7"/>
<line x1="37.36" y1="393.1" x2="37.36" y2="394.2" stroke="#555" stroke-width="0.7"/>
<line x1="38.87" y1="393.1" x2="38.87" y2="394.2" stroke="#555" stroke-width="0.7"/>
<line x1="40.21" y1="393.1" x2="40.21" y2="394.2" stroke="#555" stroke-width="0.7"/>
<line x1="41.4" y1="393.1" x2="41.4" y2="395.1" stroke="#555" stroke-width="0.7"/>
<line x1="49.26" y1="393.1" x2="49.26" y2="394.2" stroke="#555" stroke-width="0.7"/>
<line x1="53.85" y1="393.1" x2="53.85" y2="394.2" stroke="#555" stroke-width="0.7"/>
<line x1="57.11" y1="393.1" x2="57.11" y2="394.2" stroke="#555" stroke-width="0.7"/>
<line x1="59.64" y1="393.1" x2="59.64" y2="394.2" stroke="#555" stroke-width="0.7"/>
<line x1="61.71" y1="393.1" x2="61.71" y2="394.2" stroke="#555" stroke-width="0.7"/>
<line x1="63.46" y1="393.1" x2="63.46" y2="394.2" stroke="#555" stroke-width="0.7"/>
<line x1="64.97" y1="393.1" x2="64.97" y2="394.2" stroke="#555" stroke-width="0.7"/>
<line x1="66.31" y1="393.1" x2="66.31" y2="394.2" stroke="#555" stroke-width="0.7"/>
<line x1="67.5" y1="393.1" x2="67.5" y2="395.1" stroke="#555" stroke-width="0.7"/>
<line x1="75.36" y1="393.1" x2="75.36" y2="394.2" stroke="#555" stroke-width="0.7"/>
<line x1="79.95" y1="393.1" x2="79.95" y2="394.2" stroke="#555" stroke-width="0.7"/>
<line x1="83.21" y1="393.1" x2="83.21" y2="394.2" stroke="#555" stroke-width="0.7"/>
<line x1="85.74" y1="393.1" x2="85.74" y2="394.2" stroke="#555" stroke-width="0.7"/>
<line x1="87.81" y1="393.1" x2="87.81" y2="394.2" stroke="#555" stroke-width="0.7"/>
<line x1="89.56" y1="393.1" x2="89.56" y2="394.2" stroke="#555" stroke-width="0.7"/>
<line x1="91.07" y1="393.1" x2="91.07" y2="394.2" stroke="#555" stroke-width="0.7"/>
<line x1="92.41" y1="393.1" x2="92.41" y2="394.2" stroke="#555" stroke-width="0.7"/>
<line x1="93.6" y1="393.1" x2="93.6" y2="395.1" stroke="#555" stroke-width="0.7"/>
<line x1="101.46" y1="393.1" x2="101.46" y2="394.2" stroke="#555" stroke-width="0.7"/>
<line x1="106.05" y1="393.1" x2="106.05" y2="394.2" stroke="#555" stroke-width="0.7"/>
<line x1="109.31" y1="393.1" x2="109.31" y2="394.2" stroke="#555" stroke-width="0.7"/>
<line x1="111.84" y1="393.1" x2="111.84" y2="394.2" stroke="#555" stroke-width="0.7"/>
<line x1="113.91" y1="393.1" x2="113.91" y2="394.2" stroke="#555" stroke-width="0.7"/>
<line x1="115.66" y1="393.1" x2="115.66" y2="394.2" stroke="#555" stroke-width="0.7"/>
<line x1="117.17" y1="393.1" x2="117.17" y2="394.2" stroke="#555" stroke-width="0.7"/>
<line x1="118.51" y1="393.1" x2="118.51" y2="394.2" stroke="#555" stroke-width="0.7"/>
<line x1="119.7" y1="393.1" x2="119.7" y2="395.1" stroke="#555" stroke-width="0.7"/>
<text x="11.8" y="402.4" font-size="7.8" fill="#2a2a2a">10<tspan dx="0.9" dy="-3" font-size="5.2">0</tspan></text>
<text x="37.75" y="402.4" font-size="7.8" fill="#2a2a2a">10<tspan dx="0.9" dy="-3" font-size="5.2">1</tspan></text>
<text x="63.7" y="402.4" font-size="7.8" fill="#2a2a2a">10<tspan dx="0.9" dy="-3" font-size="5.2">2</tspan></text>
<text x="89.65" y="402.4" font-size="7.8" fill="#2a2a2a">10<tspan dx="0.9" dy="-3" font-size="5.2">3</tspan></text>
<text x="115.6" y="402.4" font-size="7.8" fill="#2a2a2a">10<tspan dx="0.9" dy="-3" font-size="5.2">4</tspan></text>
<text x="12" y="333.6" font-size="7.4" text-anchor="middle" fill="#333" transform="rotate(-90 12 333.6)">128</text>
<text x="6" y="363.65" font-size="7.6" text-anchor="middle" fill="#333" transform="rotate(-90 6 363.65)">Events</text>
<text x="11.7" y="393.1" font-size="7.4" text-anchor="middle" fill="#333" transform="rotate(-90 11.7 393.1)">0</text>
<text x="30.9" y="341.8" font-size="13.8" text-anchor="start" font-weight="normal" fill="#000">SCF+IFN-γ</text>
<text x="50.6" y="421.9" font-size="13.8" text-anchor="start" font-weight="normal" fill="#000">CFSE</text>
<line x1="94.7" y1="348.1" x2="106" y2="348.1" stroke="#222" stroke-width="1"/>
<line x1="94.7" y1="343.9" x2="94.7" y2="352.3" stroke="#222" stroke-width="1"/>
<line x1="106" y1="343.9" x2="106" y2="352.3" stroke="#222" stroke-width="1"/>
<path d="M169,393.6 L169,393 L175,392.9 L180,392.6 L185,392.5 L190.8,392.4 L193,391.8 L195.1,391 L197.3,389.5 L199.4,387.5 L201.2,385.2 L203,382.5 L204.5,378.8 L205.9,374.5 L207,371.5 L208.1,368.7 L209.2,366 L210.2,363 L211.3,358.5 L212.4,354.3 L213.2,352.5 L214.1,351.4 L215,354 L216,357.2 L216.8,359.5 L217.5,361.5 L218.5,358.5 L219.6,356.1 L220.7,358.5 L221.8,361.5 L222.8,365.5 L223.9,369.5 L225.8,365 L227.6,361.5 L228.6,365.5 L229.7,370.2 L230.8,375 L231.9,379.6 L233,379.6 L234,379.6 L235.3,381 L236.6,382.5 L237.8,385 L239.1,387.5 L241.5,381 L243.8,375.2 L245,378.5 L246.3,381.7 L248.5,379.5 L250.6,377.4 L251.7,381.5 L252.8,386.1 L253.9,393 L253.9,393.6 Z" fill="#2b2b2b" stroke="#111" stroke-width="0.8" stroke-linejoin="round"/>
<line x1="168.2" y1="333.8" x2="168.2" y2="393.6" stroke="#1a1a1a" stroke-width="1"/>
<line x1="168.2" y1="393.6" x2="272.6" y2="393.6" stroke="#1a1a1a" stroke-width="1"/>
<line x1="166.4" y1="333.8" x2="168.2" y2="333.8" stroke="#222" stroke-width="0.8"/>
<line x1="166.8" y1="378.65" x2="168.2" y2="378.65" stroke="#555" stroke-width="0.7"/>
<line x1="166.8" y1="363.7" x2="168.2" y2="363.7" stroke="#555" stroke-width="0.7"/>
<line x1="166.8" y1="348.75" x2="168.2" y2="348.75" stroke="#555" stroke-width="0.7"/>
<line x1="168.2" y1="393.6" x2="168.2" y2="395.6" stroke="#555" stroke-width="0.7"/>
<line x1="176.06" y1="393.6" x2="176.06" y2="394.7" stroke="#555" stroke-width="0.7"/>
<line x1="180.65" y1="393.6" x2="180.65" y2="394.7" stroke="#555" stroke-width="0.7"/>
<line x1="183.91" y1="393.6" x2="183.91" y2="394.7" stroke="#555" stroke-width="0.7"/>
<line x1="186.44" y1="393.6" x2="186.44" y2="394.7" stroke="#555" stroke-width="0.7"/>
<line x1="188.51" y1="393.6" x2="188.51" y2="394.7" stroke="#555" stroke-width="0.7"/>
<line x1="190.26" y1="393.6" x2="190.26" y2="394.7" stroke="#555" stroke-width="0.7"/>
<line x1="191.77" y1="393.6" x2="191.77" y2="394.7" stroke="#555" stroke-width="0.7"/>
<line x1="193.11" y1="393.6" x2="193.11" y2="394.7" stroke="#555" stroke-width="0.7"/>
<line x1="194.3" y1="393.6" x2="194.3" y2="395.6" stroke="#555" stroke-width="0.7"/>
<line x1="202.16" y1="393.6" x2="202.16" y2="394.7" stroke="#555" stroke-width="0.7"/>
<line x1="206.75" y1="393.6" x2="206.75" y2="394.7" stroke="#555" stroke-width="0.7"/>
<line x1="210.01" y1="393.6" x2="210.01" y2="394.7" stroke="#555" stroke-width="0.7"/>
<line x1="212.54" y1="393.6" x2="212.54" y2="394.7" stroke="#555" stroke-width="0.7"/>
<line x1="214.61" y1="393.6" x2="214.61" y2="394.7" stroke="#555" stroke-width="0.7"/>
<line x1="216.36" y1="393.6" x2="216.36" y2="394.7" stroke="#555" stroke-width="0.7"/>
<line x1="217.87" y1="393.6" x2="217.87" y2="394.7" stroke="#555" stroke-width="0.7"/>
<line x1="219.21" y1="393.6" x2="219.21" y2="394.7" stroke="#555" stroke-width="0.7"/>
<line x1="220.4" y1="393.6" x2="220.4" y2="395.6" stroke="#555" stroke-width="0.7"/>
<line x1="228.26" y1="393.6" x2="228.26" y2="394.7" stroke="#555" stroke-width="0.7"/>
<line x1="232.85" y1="393.6" x2="232.85" y2="394.7" stroke="#555" stroke-width="0.7"/>
<line x1="236.11" y1="393.6" x2="236.11" y2="394.7" stroke="#555" stroke-width="0.7"/>
<line x1="238.64" y1="393.6" x2="238.64" y2="394.7" stroke="#555" stroke-width="0.7"/>
<line x1="240.71" y1="393.6" x2="240.71" y2="394.7" stroke="#555" stroke-width="0.7"/>
<line x1="242.46" y1="393.6" x2="242.46" y2="394.7" stroke="#555" stroke-width="0.7"/>
<line x1="243.97" y1="393.6" x2="243.97" y2="394.7" stroke="#555" stroke-width="0.7"/>
<line x1="245.31" y1="393.6" x2="245.31" y2="394.7" stroke="#555" stroke-width="0.7"/>
<line x1="246.5" y1="393.6" x2="246.5" y2="395.6" stroke="#555" stroke-width="0.7"/>
<line x1="254.36" y1="393.6" x2="254.36" y2="394.7" stroke="#555" stroke-width="0.7"/>
<line x1="258.95" y1="393.6" x2="258.95" y2="394.7" stroke="#555" stroke-width="0.7"/>
<line x1="262.21" y1="393.6" x2="262.21" y2="394.7" stroke="#555" stroke-width="0.7"/>
<line x1="264.74" y1="393.6" x2="264.74" y2="394.7" stroke="#555" stroke-width="0.7"/>
<line x1="266.81" y1="393.6" x2="266.81" y2="394.7" stroke="#555" stroke-width="0.7"/>
<line x1="268.56" y1="393.6" x2="268.56" y2="394.7" stroke="#555" stroke-width="0.7"/>
<line x1="270.07" y1="393.6" x2="270.07" y2="394.7" stroke="#555" stroke-width="0.7"/>
<line x1="271.41" y1="393.6" x2="271.41" y2="394.7" stroke="#555" stroke-width="0.7"/>
<line x1="272.6" y1="393.6" x2="272.6" y2="395.6" stroke="#555" stroke-width="0.7"/>
<text x="164.7" y="402.9" font-size="7.8" fill="#2a2a2a">10<tspan dx="0.9" dy="-3" font-size="5.2">0</tspan></text>
<text x="190.65" y="402.9" font-size="7.8" fill="#2a2a2a">10<tspan dx="0.9" dy="-3" font-size="5.2">1</tspan></text>
<text x="216.6" y="402.9" font-size="7.8" fill="#2a2a2a">10<tspan dx="0.9" dy="-3" font-size="5.2">2</tspan></text>
<text x="242.55" y="402.9" font-size="7.8" fill="#2a2a2a">10<tspan dx="0.9" dy="-3" font-size="5.2">3</tspan></text>
<text x="268.5" y="402.9" font-size="7.8" fill="#2a2a2a">10<tspan dx="0.9" dy="-3" font-size="5.2">4</tspan></text>
<text x="164.9" y="333.8" font-size="7.4" text-anchor="middle" fill="#333" transform="rotate(-90 164.9 333.8)">128</text>
<text x="158.9" y="364" font-size="7.6" text-anchor="middle" fill="#333" transform="rotate(-90 158.9 364)">Events</text>
<text x="164.6" y="393.6" font-size="7.4" text-anchor="middle" fill="#333" transform="rotate(-90 164.6 393.6)">0</text>
<text x="189.8" y="345.1" font-size="13.8" text-anchor="start" font-weight="normal" fill="#000">SCF+IL-5</text>
<text x="211.4" y="420.4" font-size="13.8" text-anchor="start" font-weight="normal" fill="#000">CFSE</text>
<line x1="249" y1="362.1" x2="260.3" y2="362.1" stroke="#222" stroke-width="1"/>
<line x1="249" y1="357.9" x2="249" y2="366.3" stroke="#222" stroke-width="1"/>
<line x1="260.3" y1="357.9" x2="260.3" y2="366.3" stroke="#222" stroke-width="1"/>
<text x="91.2" y="217.3" font-size="11" text-anchor="start" font-weight="normal" fill="#000">Parent</text>
<text x="91.2" y="230.7" font-size="11" text-anchor="start" font-weight="normal" fill="#000">population</text>
<line x1="126.8" y1="238.3" x2="121.5" y2="242.6" stroke="#000" stroke-width="1.1"/>
<path d="M115.8,246.4 L120.2,238.3 L125.1,244.5 Z" fill="#000"/>
<line x1="348.7" y1="215.8" x2="348.7" y2="299.4" stroke="#d8d8d8" stroke-width="1"/>
<line x1="348.7" y1="299.4" x2="515.9" y2="299.4" stroke="#d8d8d8" stroke-width="1"/>
<line x1="345.7" y1="299.4" x2="348.7" y2="299.4" stroke="#d8d8d8" stroke-width="1"/>
<text x="339.4" y="302.75" font-size="11.8" text-anchor="end" font-weight="normal" fill="#000">0</text>
<line x1="345.7" y1="278.5" x2="348.7" y2="278.5" stroke="#d8d8d8" stroke-width="1"/>
<text x="339.4" y="281.85" font-size="11.8" text-anchor="end" font-weight="normal" fill="#000">10</text>
<line x1="345.7" y1="257.6" x2="348.7" y2="257.6" stroke="#d8d8d8" stroke-width="1"/>
<text x="339.4" y="260.95" font-size="11.8" text-anchor="end" font-weight="normal" fill="#000">20</text>
<line x1="345.7" y1="236.7" x2="348.7" y2="236.7" stroke="#d8d8d8" stroke-width="1"/>
<text x="339.4" y="240.05" font-size="11.8" text-anchor="end" font-weight="normal" fill="#000">30</text>
<line x1="345.7" y1="215.8" x2="348.7" y2="215.8" stroke="#d8d8d8" stroke-width="1"/>
<text x="339.4" y="219.15" font-size="11.8" text-anchor="end" font-weight="normal" fill="#000">40</text>
<line x1="348.7" y1="299.4" x2="348.7" y2="302.4" stroke="#d8d8d8" stroke-width="1"/>
<line x1="369.6" y1="299.4" x2="369.6" y2="302.4" stroke="#d8d8d8" stroke-width="1"/>
<line x1="390.5" y1="299.4" x2="390.5" y2="302.4" stroke="#d8d8d8" stroke-width="1"/>
<line x1="411.4" y1="299.4" x2="411.4" y2="302.4" stroke="#d8d8d8" stroke-width="1"/>
<line x1="432.3" y1="299.4" x2="432.3" y2="302.4" stroke="#d8d8d8" stroke-width="1"/>
<line x1="453.2" y1="299.4" x2="453.2" y2="302.4" stroke="#d8d8d8" stroke-width="1"/>
<line x1="474.1" y1="299.4" x2="474.1" y2="302.4" stroke="#d8d8d8" stroke-width="1"/>
<line x1="495" y1="299.4" x2="495" y2="302.4" stroke="#d8d8d8" stroke-width="1"/>
<line x1="515.9" y1="299.4" x2="515.9" y2="302.4" stroke="#d8d8d8" stroke-width="1"/>
<text x="359.2" y="323.6" font-size="11.6" text-anchor="middle" font-weight="normal" fill="#000">1</text>
<text x="380.1" y="323.6" font-size="11.6" text-anchor="middle" font-weight="normal" fill="#000">2</text>
<text x="401" y="323.6" font-size="11.6" text-anchor="middle" font-weight="normal" fill="#000">3</text>
<text x="421.9" y="323.6" font-size="11.6" text-anchor="middle" font-weight="normal" fill="#000">4</text>
<text x="442.8" y="323.6" font-size="11.6" text-anchor="middle" font-weight="normal" fill="#000">5</text>
<text x="463.7" y="323.6" font-size="11.6" text-anchor="middle" font-weight="normal" fill="#000">6</text>
<text x="484.6" y="323.6" font-size="11.6" text-anchor="middle" font-weight="normal" fill="#000">7</text>
<text x="505.5" y="323.6" font-size="11.6" text-anchor="middle" font-weight="normal" fill="#000">8</text>
<text x="432.3" y="338.5" font-size="12.4" text-anchor="middle" font-weight="bold" fill="#000">generation</text>
<text x="320.6" y="257.3" font-size="16.5" font-weight="bold" text-anchor="middle" transform="rotate(-90 320.6 257.3)" xml:space="preserve">Kit  (MFI)</text>
<text x="0" y="0" font-size="25.5" font-weight="bold" transform="translate(305.6 202.7) scale(1.09 1)">D</text>
<line x1="505.5" y1="219.35" x2="505.5" y2="230.22" stroke="#000" stroke-width="1.1"/>
<line x1="502.5" y1="219.35" x2="508.5" y2="219.35" stroke="#000" stroke-width="1.1"/>
<line x1="502.5" y1="230.22" x2="508.5" y2="230.22" stroke="#000" stroke-width="1.1"/>
<line x1="484.6" y1="238.79" x2="484.6" y2="244.01" stroke="#000" stroke-width="1.1"/>
<line x1="481.6" y1="238.79" x2="487.6" y2="238.79" stroke="#000" stroke-width="1.1"/>
<line x1="481.6" y1="244.01" x2="487.6" y2="244.01" stroke="#000" stroke-width="1.1"/>
<line x1="463.7" y1="244.22" x2="463.7" y2="251.75" stroke="#000" stroke-width="1.1"/>
<line x1="460.7" y1="244.22" x2="466.7" y2="244.22" stroke="#000" stroke-width="1.1"/>
<line x1="460.7" y1="251.75" x2="466.7" y2="251.75" stroke="#000" stroke-width="1.1"/>
<line x1="401" y1="267.84" x2="401" y2="269.93" stroke="#000" stroke-width="1.1"/>
<line x1="398" y1="267.84" x2="404" y2="267.84" stroke="#000" stroke-width="1.1"/>
<line x1="398" y1="269.93" x2="404" y2="269.93" stroke="#000" stroke-width="1.1"/>
<line x1="359.2" y1="269.51" x2="359.2" y2="270.98" stroke="#000" stroke-width="1.1"/>
<line x1="356.2" y1="269.51" x2="362.2" y2="269.51" stroke="#000" stroke-width="1.1"/>
<line x1="356.2" y1="270.98" x2="362.2" y2="270.98" stroke="#000" stroke-width="1.1"/>
<line x1="442.8" y1="262.2" x2="442.8" y2="264.71" stroke="#000" stroke-width="1.1"/>
<line x1="439.8" y1="262.2" x2="445.8" y2="262.2" stroke="#000" stroke-width="1.1"/>
<line x1="439.8" y1="264.71" x2="445.8" y2="264.71" stroke="#000" stroke-width="1.1"/>
<line x1="505.5" y1="264.91" x2="505.5" y2="268.47" stroke="#888" stroke-width="1.1"/>
<line x1="502.5" y1="264.91" x2="508.5" y2="264.91" stroke="#888" stroke-width="1.1"/>
<line x1="502.5" y1="268.47" x2="508.5" y2="268.47" stroke="#888" stroke-width="1.1"/>
<line x1="421.9" y1="267.63" x2="421.9" y2="268.89" stroke="#000" stroke-width="1.1"/>
<line x1="418.9" y1="267.63" x2="424.9" y2="267.63" stroke="#000" stroke-width="1.1"/>
<line x1="418.9" y1="268.89" x2="424.9" y2="268.89" stroke="#000" stroke-width="1.1"/>
<path d="M359.2,281.43 L380.1,284.35 L401,282.47 L421.9,279.54 L442.8,279.54 L463.7,273.69 L484.6,270.35 L505.5,268.47" stroke="#888" stroke-width="1.2" fill="none" stroke-linejoin="round"/>
<path d="M359.2,273.69 L380.1,280.59 L401,274.74 L421.9,273.27 L442.8,267 L463.7,255.51 L484.6,247.78 L505.5,239.83" stroke="#111" stroke-width="1.6" fill="none" stroke-linejoin="round"/>
<path d="M359.2,277.66 L380.1,281.43 L401,280.59 L421.9,273.69 L442.8,268.89 L463.7,259.9 L484.6,254.26 L505.5,249.87" stroke="#000" stroke-width="1.6" fill="none" stroke-linejoin="round"/>
<path d="M359.2,270.98 L380.1,278.29 L401,269.93 L421.9,268.89 L442.8,264.71 L463.7,248.19 L484.6,241.51 L505.5,230.22" stroke="#000" stroke-width="1.6" fill="none" stroke-linejoin="round"/>
<path d="M359.2,277.93 L362.7,284.23 L355.7,284.23 Z" fill="#888" stroke="#888" stroke-width="0.5"/>
<path d="M380.1,280.85 L383.6,287.15 L376.6,287.15 Z" fill="#888" stroke="#888" stroke-width="0.5"/>
<path d="M401,278.97 L404.5,285.27 L397.5,285.27 Z" fill="#888" stroke="#888" stroke-width="0.5"/>
<path d="M421.9,276.04 L425.4,282.34 L418.4,282.34 Z" fill="#888" stroke="#888" stroke-width="0.5"/>
<path d="M442.8,276.04 L446.3,282.34 L439.3,282.34 Z" fill="#888" stroke="#888" stroke-width="0.5"/>
<path d="M463.7,270.19 L467.2,276.49 L460.2,276.49 Z" fill="#888" stroke="#888" stroke-width="0.5"/>
<path d="M484.6,266.85 L488.1,273.15 L481.1,273.15 Z" fill="#888" stroke="#888" stroke-width="0.5"/>
<path d="M505.5,264.97 L509,271.27 L502,271.27 Z" fill="#888" stroke="#888" stroke-width="0.5"/>
<rect x="356.3" y="270.79" width="5.8" height="5.8" fill="#333" stroke="#111" stroke-width="0.6"/>
<rect x="377.2" y="277.69" width="5.8" height="5.8" fill="#333" stroke="#111" stroke-width="0.6"/>
<rect x="398.1" y="271.84" width="5.8" height="5.8" fill="#333" stroke="#111" stroke-width="0.6"/>
<rect x="419" y="270.38" width="5.8" height="5.8" fill="#333" stroke="#111" stroke-width="0.6"/>
<rect x="439.9" y="264.11" width="5.8" height="5.8" fill="#333" stroke="#111" stroke-width="0.6"/>
<rect x="460.8" y="252.61" width="5.8" height="5.8" fill="#333" stroke="#111" stroke-width="0.6"/>
<rect x="481.7" y="244.88" width="5.8" height="5.8" fill="#333" stroke="#111" stroke-width="0.6"/>
<rect x="502.6" y="236.93" width="5.8" height="5.8" fill="#333" stroke="#111" stroke-width="0.6"/>
<rect x="356.35" y="274.81" width="5.7" height="5.7" fill="#fff" stroke="#000" stroke-width="1.2"/>
<rect x="377.25" y="278.58" width="5.7" height="5.7" fill="#fff" stroke="#000" stroke-width="1.2"/>
<rect x="398.15" y="277.74" width="5.7" height="5.7" fill="#fff" stroke="#000" stroke-width="1.2"/>
<rect x="419.05" y="270.84" width="5.7" height="5.7" fill="#fff" stroke="#000" stroke-width="1.2"/>
<rect x="439.95" y="266.04" width="5.7" height="5.7" fill="#fff" stroke="#000" stroke-width="1.2"/>
<rect x="460.85" y="257.05" width="5.7" height="5.7" fill="#fff" stroke="#000" stroke-width="1.2"/>
<rect x="481.75" y="251.41" width="5.7" height="5.7" fill="#fff" stroke="#000" stroke-width="1.2"/>
<rect x="502.65" y="247.02" width="5.7" height="5.7" fill="#fff" stroke="#000" stroke-width="1.2"/>
<path d="M359.2,267.08 L363.1,270.98 L359.2,274.88 L355.3,270.98 Z" fill="#000" stroke="#000" stroke-width="0.5"/>
<path d="M380.1,274.39 L384,278.29 L380.1,282.19 L376.2,278.29 Z" fill="#000" stroke="#000" stroke-width="0.5"/>
<path d="M401,266.03 L404.9,269.93 L401,273.83 L397.1,269.93 Z" fill="#000" stroke="#000" stroke-width="0.5"/>
<path d="M421.9,264.99 L425.8,268.89 L421.9,272.79 L418,268.89 Z" fill="#000" stroke="#000" stroke-width="0.5"/>
<path d="M442.8,260.81 L446.7,264.71 L442.8,268.61 L438.9,264.71 Z" fill="#000" stroke="#000" stroke-width="0.5"/>
<path d="M463.7,244.29 L467.6,248.19 L463.7,252.09 L459.8,248.19 Z" fill="#000" stroke="#000" stroke-width="0.5"/>
<path d="M484.6,237.61 L488.5,241.51 L484.6,245.41 L480.7,241.51 Z" fill="#000" stroke="#000" stroke-width="0.5"/>
<path d="M505.5,226.32 L509.4,230.22 L505.5,234.12 L501.6,230.22 Z" fill="#000" stroke="#000" stroke-width="0.5"/>
<line x1="351.3" y1="371.4" x2="351.3" y2="459.8" stroke="#d8d8d8" stroke-width="1"/>
<line x1="351.3" y1="459.8" x2="518.5" y2="459.8" stroke="#d8d8d8" stroke-width="1"/>
<line x1="348.3" y1="459.8" x2="351.3" y2="459.8" stroke="#d8d8d8" stroke-width="1"/>
<text x="343" y="463.04" font-size="11.5" text-anchor="end" font-weight="normal" fill="#000">0</text>
<line x1="348.3" y1="437.7" x2="351.3" y2="437.7" stroke="#d8d8d8" stroke-width="1"/>
<text x="343" y="440.94" font-size="11.5" text-anchor="end" font-weight="normal" fill="#000">50</text>
<line x1="348.3" y1="415.6" x2="351.3" y2="415.6" stroke="#d8d8d8" stroke-width="1"/>
<text x="343" y="418.84" font-size="11.5" text-anchor="end" font-weight="normal" fill="#000">100</text>
<line x1="348.3" y1="393.5" x2="351.3" y2="393.5" stroke="#d8d8d8" stroke-width="1"/>
<text x="343" y="396.74" font-size="11.5" text-anchor="end" font-weight="normal" fill="#000">150</text>
<line x1="348.3" y1="371.4" x2="351.3" y2="371.4" stroke="#d8d8d8" stroke-width="1"/>
<text x="343" y="374.64" font-size="11.5" text-anchor="end" font-weight="normal" fill="#000">200</text>
<line x1="351.3" y1="459.8" x2="351.3" y2="462.8" stroke="#d8d8d8" stroke-width="1"/>
<line x1="372.2" y1="459.8" x2="372.2" y2="462.8" stroke="#d8d8d8" stroke-width="1"/>
<line x1="393.1" y1="459.8" x2="393.1" y2="462.8" stroke="#d8d8d8" stroke-width="1"/>
<line x1="414" y1="459.8" x2="414" y2="462.8" stroke="#d8d8d8" stroke-width="1"/>
<line x1="434.9" y1="459.8" x2="434.9" y2="462.8" stroke="#d8d8d8" stroke-width="1"/>
<line x1="455.8" y1="459.8" x2="455.8" y2="462.8" stroke="#d8d8d8" stroke-width="1"/>
<line x1="476.7" y1="459.8" x2="476.7" y2="462.8" stroke="#d8d8d8" stroke-width="1"/>
<line x1="497.6" y1="459.8" x2="497.6" y2="462.8" stroke="#d8d8d8" stroke-width="1"/>
<line x1="518.5" y1="459.8" x2="518.5" y2="462.8" stroke="#d8d8d8" stroke-width="1"/>
<text x="362.3" y="483.6" font-size="11.6" text-anchor="middle" font-weight="normal" fill="#000">1</text>
<text x="383.2" y="483.6" font-size="11.6" text-anchor="middle" font-weight="normal" fill="#000">2</text>
<text x="404.1" y="483.6" font-size="11.6" text-anchor="middle" font-weight="normal" fill="#000">3</text>
<text x="425" y="483.6" font-size="11.6" text-anchor="middle" font-weight="normal" fill="#000">4</text>
<text x="445.9" y="483.6" font-size="11.6" text-anchor="middle" font-weight="normal" fill="#000">5</text>
<text x="466.8" y="483.6" font-size="11.6" text-anchor="middle" font-weight="normal" fill="#000">6</text>
<text x="487.7" y="483.6" font-size="11.6" text-anchor="middle" font-weight="normal" fill="#000">7</text>
<text x="508.6" y="483.6" font-size="11.6" text-anchor="middle" font-weight="normal" fill="#000">8</text>
<text x="435.5" y="496.2" font-size="13.3" text-anchor="middle" font-weight="bold" fill="#000">generation</text>
<text x="320" y="415" font-size="15.4" font-weight="bold" text-anchor="middle" transform="rotate(-90 320 415)">CD34<tspan dy="-5.8" font-size="9.2">+</tspan><tspan dy="5.8"> (MFI)</tspan></text>
<text x="0" y="0" font-size="25.5" font-weight="bold" transform="translate(305.3 359.6) scale(1.07 1)">E</text>
<line x1="362.3" y1="384.22" x2="362.3" y2="392.17" stroke="#000" stroke-width="1.1"/>
<line x1="359.3" y1="384.22" x2="365.3" y2="384.22" stroke="#000" stroke-width="1.1"/>
<line x1="359.3" y1="392.17" x2="365.3" y2="392.17" stroke="#000" stroke-width="1.1"/>
<line x1="383.2" y1="395.27" x2="383.2" y2="397.92" stroke="#000" stroke-width="1.1"/>
<line x1="380.2" y1="395.27" x2="386.2" y2="395.27" stroke="#000" stroke-width="1.1"/>
<line x1="380.2" y1="397.92" x2="386.2" y2="397.92" stroke="#000" stroke-width="1.1"/>
<line x1="425" y1="400.57" x2="425" y2="403.67" stroke="#888" stroke-width="1.1"/>
<line x1="422" y1="400.57" x2="428" y2="400.57" stroke="#888" stroke-width="1.1"/>
<line x1="422" y1="403.67" x2="428" y2="403.67" stroke="#888" stroke-width="1.1"/>
<line x1="466.8" y1="404.55" x2="466.8" y2="416.48" stroke="#888" stroke-width="1.1"/>
<line x1="463.8" y1="404.55" x2="469.8" y2="404.55" stroke="#888" stroke-width="1.1"/>
<line x1="463.8" y1="416.48" x2="469.8" y2="416.48" stroke="#888" stroke-width="1.1"/>
<line x1="404.1" y1="408.53" x2="404.1" y2="410.74" stroke="#888" stroke-width="1.1"/>
<line x1="401.1" y1="408.53" x2="407.1" y2="408.53" stroke="#888" stroke-width="1.1"/>
<line x1="401.1" y1="410.74" x2="407.1" y2="410.74" stroke="#888" stroke-width="1.1"/>
<line x1="383.2" y1="404.55" x2="383.2" y2="406.76" stroke="#888" stroke-width="1.1"/>
<line x1="380.2" y1="404.55" x2="386.2" y2="404.55" stroke="#888" stroke-width="1.1"/>
<line x1="380.2" y1="406.76" x2="386.2" y2="406.76" stroke="#888" stroke-width="1.1"/>
<line x1="487.7" y1="433.28" x2="487.7" y2="439.91" stroke="#000" stroke-width="1.1"/>
<line x1="484.7" y1="433.28" x2="490.7" y2="433.28" stroke="#000" stroke-width="1.1"/>
<line x1="484.7" y1="439.91" x2="490.7" y2="439.91" stroke="#000" stroke-width="1.1"/>
<line x1="508.6" y1="435.93" x2="508.6" y2="439.03" stroke="#000" stroke-width="1.1"/>
<line x1="505.6" y1="435.93" x2="511.6" y2="435.93" stroke="#000" stroke-width="1.1"/>
<line x1="505.6" y1="439.03" x2="511.6" y2="439.03" stroke="#000" stroke-width="1.1"/>
<path d="M362.3,397.92 L383.2,406.76 L404.1,410.74 L425,403.67 L445.9,409.41 L466.8,411.18 L487.7,412.95 L508.6,419.58" stroke="#888" stroke-width="1.2" fill="none" stroke-linejoin="round"/>
<path d="M362.3,407.64 L383.2,423.56 L404.1,440.79 L425,440.79 L445.9,440.79 L466.8,446.98 L487.7,448.75 L508.6,451.4" stroke="#111" stroke-width="1.6" fill="none" stroke-linejoin="round"/>
<path d="M362.3,392.17 L383.2,397.92 L404.1,425.32 L425,422.23 L445.9,422.23 L466.8,426.65 L487.7,435.93 L508.6,444.77" stroke="#000" stroke-width="1.6" fill="none" stroke-linejoin="round"/>
<path d="M362.3,410.3 L383.2,409.85 L404.1,430.63 L425,422.23 L445.9,421.35 L466.8,428.42 L487.7,435.93 L508.6,437.7" stroke="#000" stroke-width="1.6" fill="none" stroke-linejoin="round"/>
<path d="M362.3,394.42 L365.8,400.72 L358.8,400.72 Z" fill="#888" stroke="#888" stroke-width="0.5"/>
<path d="M383.2,403.26 L386.7,409.56 L379.7,409.56 Z" fill="#888" stroke="#888" stroke-width="0.5"/>
<path d="M404.1,407.24 L407.6,413.54 L400.6,413.54 Z" fill="#888" stroke="#888" stroke-width="0.5"/>
<path d="M425,400.17 L428.5,406.47 L421.5,406.47 Z" fill="#888" stroke="#888" stroke-width="0.5"/>
<path d="M445.9,405.91 L449.4,412.21 L442.4,412.21 Z" fill="#888" stroke="#888" stroke-width="0.5"/>
<path d="M466.8,407.68 L470.3,413.98 L463.3,413.98 Z" fill="#888" stroke="#888" stroke-width="0.5"/>
<path d="M487.7,409.45 L491.2,415.75 L484.2,415.75 Z" fill="#888" stroke="#888" stroke-width="0.5"/>
<path d="M508.6,416.08 L512.1,422.38 L505.1,422.38 Z" fill="#888" stroke="#888" stroke-width="0.5"/>
<rect x="359.4" y="404.74" width="5.8" height="5.8" fill="#333" stroke="#111" stroke-width="0.6"/>
<rect x="380.3" y="420.66" width="5.8" height="5.8" fill="#333" stroke="#111" stroke-width="0.6"/>
<rect x="401.2" y="437.89" width="5.8" height="5.8" fill="#333" stroke="#111" stroke-width="0.6"/>
<rect x="422.1" y="437.89" width="5.8" height="5.8" fill="#333" stroke="#111" stroke-width="0.6"/>
<rect x="443" y="437.89" width="5.8" height="5.8" fill="#333" stroke="#111" stroke-width="0.6"/>
<rect x="463.9" y="444.08" width="5.8" height="5.8" fill="#333" stroke="#111" stroke-width="0.6"/>
<rect x="484.8" y="445.85" width="5.8" height="5.8" fill="#333" stroke="#111" stroke-width="0.6"/>
<rect x="505.7" y="448.5" width="5.8" height="5.8" fill="#333" stroke="#111" stroke-width="0.6"/>
<path d="M362.3,388.37 L366.1,392.17 L362.3,395.97 L358.5,392.17 Z" fill="#000" stroke="#000" stroke-width="0.5"/>
<path d="M383.2,394.12 L387,397.92 L383.2,401.72 L379.4,397.92 Z" fill="#000" stroke="#000" stroke-width="0.5"/>
<path d="M404.1,421.52 L407.9,425.32 L404.1,429.12 L400.3,425.32 Z" fill="#000" stroke="#000" stroke-width="0.5"/>
<path d="M425,418.43 L428.8,422.23 L425,426.03 L421.2,422.23 Z" fill="#000" stroke="#000" stroke-width="0.5"/>
<path d="M445.9,418.43 L449.7,422.23 L445.9,426.03 L442.1,422.23 Z" fill="#000" stroke="#000" stroke-width="0.5"/>
<path d="M466.8,422.85 L470.6,426.65 L466.8,430.45 L463,426.65 Z" fill="#000" stroke="#000" stroke-width="0.5"/>
<path d="M487.7,432.13 L491.5,435.93 L487.7,439.73 L483.9,435.93 Z" fill="#000" stroke="#000" stroke-width="0.5"/>
<path d="M508.6,440.97 L512.4,444.77 L508.6,448.57 L504.8,444.77 Z" fill="#000" stroke="#000" stroke-width="0.5"/>
<rect x="359.45" y="407.45" width="5.7" height="5.7" fill="#fff" stroke="#000" stroke-width="1.2"/>
<rect x="380.35" y="407" width="5.7" height="5.7" fill="#fff" stroke="#000" stroke-width="1.2"/>
<rect x="401.25" y="427.78" width="5.7" height="5.7" fill="#fff" stroke="#000" stroke-width="1.2"/>
<rect x="422.15" y="419.38" width="5.7" height="5.7" fill="#fff" stroke="#000" stroke-width="1.2"/>
<rect x="443.05" y="418.5" width="5.7" height="5.7" fill="#fff" stroke="#000" stroke-width="1.2"/>
<rect x="463.95" y="425.57" width="5.7" height="5.7" fill="#fff" stroke="#000" stroke-width="1.2"/>
<rect x="484.85" y="433.08" width="5.7" height="5.7" fill="#fff" stroke="#000" stroke-width="1.2"/>
<rect x="505.75" y="434.85" width="5.7" height="5.7" fill="#fff" stroke="#000" stroke-width="1.2"/>
</svg></body></html>
